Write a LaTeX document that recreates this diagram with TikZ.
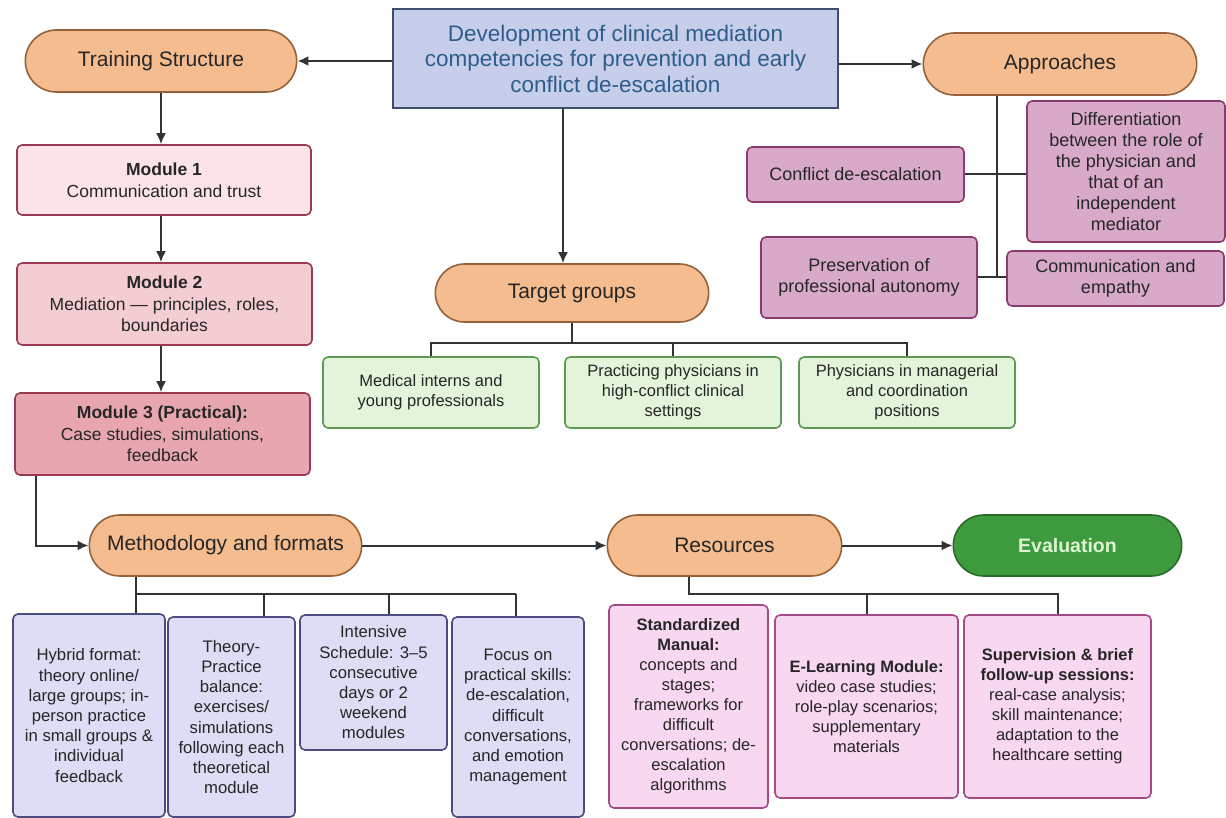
\documentclass[tikz,border=0pt]{standalone}
\usepackage{fontspec}
\setmainfont{Liberation Sans}
\usetikzlibrary{positioning, calc, shapes.misc, arrows.meta}

\definecolor{linegray}{HTML}{333333}
\definecolor{titlefill}{HTML}{C6CEE9}
\definecolor{titledraw}{HTML}{3E4E6E}
\definecolor{titletext}{HTML}{2E5D8C}
\definecolor{pillfill}{HTML}{F5BD8F}
\definecolor{pilldraw}{HTML}{94613A}
\definecolor{modonefill}{HTML}{FBE3E8}
\definecolor{modtwofill}{HTML}{F4CDD2}
\definecolor{modthreefill}{HTML}{E8A7B0}
\definecolor{moddraw}{HTML}{9A3A52}
\definecolor{apprfill}{HTML}{D8A9C9}
\definecolor{apprdraw}{HTML}{8A3C6E}
\definecolor{grpfill}{HTML}{E3F4DA}
\definecolor{grpdraw}{HTML}{5E9A52}
\definecolor{methfill}{HTML}{DDDDF5}
\definecolor{methdraw}{HTML}{4C4C80}
\definecolor{resfill}{HTML}{F8D7F0}
\definecolor{resdraw}{HTML}{A64A88}
\definecolor{evalfill}{HTML}{3D9B3D}
\definecolor{evaldraw}{HTML}{2A6B2A}
\definecolor{evaltext}{HTML}{DFF5D2}

\tikzstyle{Arrow} = [
line width=2pt, draw=linegray,
-{Latex[length=11pt, width=10pt]}]
\tikzstyle{Line} = [line width=2pt, draw=linegray]

\tikzset{
  wh/.style 2 args={minimum width=#1pt, minimum height=#2pt},
  pill/.style={rounded rectangle, draw=pilldraw, fill=pillfill, line width=1.6pt,
    text=black!85, font=\fontsize{21}{25}\selectfont},
  box/.style={rectangle, rounded corners=5pt, line width=1.6pt, align=center,
    inner sep=2pt, text=black!85, font=\fontsize{17.5}{21.5}\selectfont},
  mod1/.style={box, draw=moddraw, fill=modonefill},
  mod2/.style={box, draw=moddraw, fill=modtwofill},
  mod3/.style={box, draw=moddraw, fill=modthreefill},
  appr/.style={box, draw=apprdraw, fill=apprfill, font=\fontsize{18}{21}\selectfont},
  grp/.style={box, draw=grpdraw, fill=grpfill, font=\fontsize{16.5}{20}\selectfont},
  meth/.style={box, draw=methdraw, fill=methfill, font=\fontsize{16.7}{20.2}\selectfont},
  res/.style={box, draw=resdraw, fill=resfill, font=\fontsize{16.5}{20}\selectfont},
}

\begin{document}
\begin{tikzpicture}[x=1pt, y=-1pt]
    \fill[white] (0,0) rectangle (1226,818);
    \useasboundingbox (0,0) rectangle (1226,818);

    % top row
    \node[box, draw=titledraw, fill=titlefill, text=titletext, rounded corners=0pt,
          wh={445}{99}, font=\fontsize{22.5}{25.5}\selectfont] (1) at (615.5,58.5)
          {Development of clinical mediation\\competencies for prevention and early\\conflict de-escalation};
    \node[pill, wh={278}{62}] (2) at (161,61) {Training Structure};
    \node[pill, wh={280}{62}] (3) at (1060,64) {Approaches};

    % modules
    \node[mod1, wh={294}{70}] (4) at (164,180) {\textbf{Module 1}\\Communication and trust};
    \node[mod2, wh={295}{82}] (5) at (164.5,304) {\textbf{Module 2}\\Mediation — principles, roles,\\boundaries};
    \node[mod3, wh={295}{82}] (6) at (162.5,434) {\textbf{Module 3 (Practical):}\\Case studies, simulations,\\feedback};

    % target groups
    \node[pill, wh={280}{58}] (7) at (572,293) {Target groups};
    \node[grp, wh={216}{71}] (8) at (431,392.5) {Medical interns and\\young professionals};
    \node[grp, wh={216}{71}] (9) at (673,392.5) {Practicing physicians in\\high-conflict clinical\\settings};
    \node[grp, wh={216}{71}] (10) at (907,392.5) {Physicians in managerial\\and coordination\\positions};

    % approaches
    \node[appr, wh={217}{55}] (11) at (855.5,174.5) {Conflict de-escalation};
    \node[appr, wh={198}{141}] (12) at (1126,171.5) {Differentiation\\between the role of\\the physician and\\that of an\\independent\\mediator};
    \node[appr, wh={216}{81}] (13) at (869,277.5) {Preservation of\\professional autonomy};
    \node[appr, wh={217}{55}] (14) at (1115.5,278.5) {Communication and\\empathy};

    % middle row
    \node[pill, wh={279}{61}] (15) at (225.5,545.5) {Methodology and formats};
    \node[pill, wh={241}{61}] (16) at (724.5,545.5) {Resources};
    \node[pill, draw=evaldraw, fill=evalfill, text=evaltext, wh={235}{61},
          font=\fontsize{19.5}{23}\selectfont\bfseries] (17) at (1067.5,545.5) {Evaluation};

    % methodology boxes
    \node[meth, wh={152}{203}] (18) at (89,715.5) {Hybrid format:\\theory online/\\large groups; in-\\person practice\\in small groups \&\\individual\\feedback};
    \node[meth, wh={127}{200}] (19) at (231.5,717) {Theory-\\Practice\\balance:\\exercises/\\simulations\\following each\\theoretical\\module};
    \node[meth, wh={147}{135}] (20) at (373.5,682.5) {Intensive\\Schedule: 3–5\\consecutive\\days or 2\\weekend\\modules};
    \node[meth, wh={132}{200}] (21) at (518,717) {Focus on\\practical skills:\\de-escalation,\\difficult\\conversations,\\and emotion\\management};

    % resource boxes
    \node[res, wh={159}{203}] (22) at (688.5,706.5) {\textbf{Standardized}\\\textbf{Manual:}\\concepts and\\stages;\\frameworks for\\difficult\\conversations; de-\\escalation\\algorithms};
    \node[res, wh={183}{183}] (23) at (866.5,706.5) {\textbf{E-Learning Module:}\\video case studies;\\role-play scenarios;\\supplementary\\materials};
    \node[res, wh={187}{183}] (24) at (1057.5,706.5) {\textbf{Supervision \& brief}\\\textbf{follow-up sessions:}\\real-case analysis;\\skill maintenance;\\adaptation to the\\healthcare setting};

    \coordinate (a) at (997,278);
    \coordinate (t) at (0,343);
    \coordinate (r) at (0,594);
    \coordinate (m1) at (136,594);
    \coordinate (m2) at (264,594);
    \coordinate (m3) at (389,594);
    \coordinate (m4) at (516,594);

    \draw[Arrow] (1.west |- 2.east) -- (2.east);
    \draw[Arrow] (1.east |- 3.west) -- (3.west);
    \draw[Arrow] ($(1.south -| 7.north)+(-9,0)$) -- ($(7.north)+(-9,0)$);
    \draw[Arrow] (2.south) -- (2.south |- 4.north);
    \draw[Arrow] (4.south -| 2.south) -- (5.north -| 2.south);
    \draw[Arrow] (5.south -| 2.south) -- (6.north -| 2.south);
    \draw[Arrow] ($(6.south west)+(22,0)$) |- (15.west);
    \draw[Arrow] (15.east) -- (16.west);
    \draw[Arrow] (16.east) -- (17.west);

    \draw[Line] (a |- 3.south) -- (a);
    \draw[Line] (11.east) -- (11.east -| 12.west);
    \draw[Line] (13.east) -- (13.east -| 14.west);

    \draw[Line] (7.south) -- (7.south |- t);
    \draw[Line] (8.north) -- (8.north |- t) -| (10.north);
    \draw[Line] (9.north) -- (9.north |- t);

    \draw[Line] (m1 |- 15.south) -- (m1) -- (m4);
    \draw[Line] (m1) -- (m1 |- 18.north);
    \draw[Line] (m2) -- (m2 |- 19.north);
    \draw[Line] (m3) -- (m3 |- 20.north);
    \draw[Line] (m4) -- (m4 |- 21.north);

    \draw[Line] (16.south -| 22.north) -- (22.north |- r) -| (24.north);
    \draw[Line] (23.north) -- (23.north |- r);
\end{tikzpicture}
\end{document}
